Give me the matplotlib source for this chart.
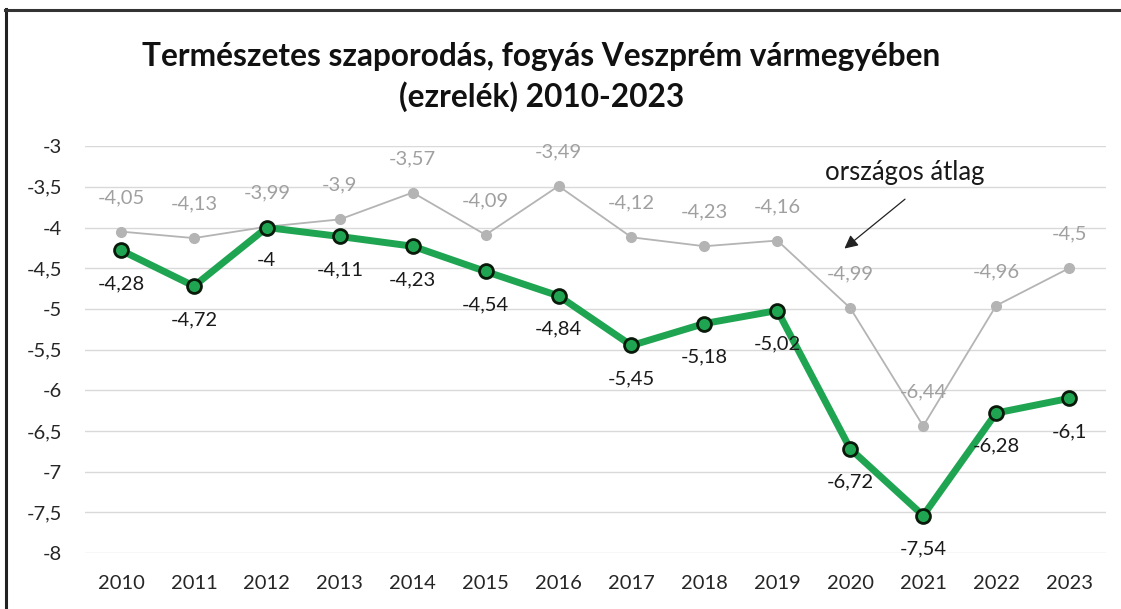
import matplotlib
matplotlib.use("Agg")
import matplotlib.pyplot as plt
from matplotlib.lines import Line2D

plt.rcParams['font.family'] = ['Lato', 'DejaVu Sans']

years = [2010, 2011, 2012, 2013, 2014, 2015, 2016, 2017, 2018, 2019, 2020, 2021, 2022, 2023]
veszprem = [-4.28, -4.72, -4.0, -4.11, -4.23, -4.54, -4.84, -5.45, -5.18, -5.02, -6.72, -7.54, -6.28, -6.1]
orszagos = [-4.05, -4.13, -3.99, -3.9, -3.57, -4.09, -3.49, -4.12, -4.23, -4.16, -4.99, -6.44, -4.96, -4.5]
yticks = [-3, -3.5, -4, -4.5, -5, -5.5, -6, -6.5, -7, -7.5, -8]
title = "Természetes szaporodás, fogyás Veszprém vármegyében\n(ezrelék) 2010-2023"


def fmt(v):
    s = ("%g" % v)
    return s.replace(".", ",")


fig = plt.figure(figsize=(11.21, 6.09), dpi=100)
ax = fig.add_axes([0.0754, 0.092, 0.9108, 0.668])

x = list(range(len(years)))
ax.plot(x, orszagos, color="#b4b4b4", lw=1.3, marker="o", ms=7,
        mfc="#b4b4b4", mec="#b4b4b4", zorder=3)
ax.plot(x, veszprem, color="#1fa551", lw=5.0, marker="o", ms=10,
        mfc="#1fa551", mec="#0a1a0a", mew=2.0, zorder=4)

for xi, v in zip(x, orszagos):
    ax.annotate(fmt(v), (xi, v), xytext=(0, 24.5), textcoords="offset points",
                ha="center", va="center", fontsize=14.5, color="#a0a0a0", zorder=5)
for xi, v in zip(x, veszprem):
    ax.annotate(fmt(v), (xi, v), xytext=(0, -24), textcoords="offset points",
                ha="center", va="center", fontsize=14.5, color="#1a1a1a", zorder=5)

ax.set_xlim(-0.5, len(years) - 0.5)
ax.set_ylim(-8, -3)
ax.set_yticks(yticks)
ax.set_yticklabels([fmt(t) for t in yticks])
ax.set_xticks(x)
ax.set_xticklabels([str(y) for y in years])
ax.tick_params(axis="both", length=0, labelsize=14.5, labelcolor="#262626")
ax.tick_params(axis="y", pad=16)
ax.tick_params(axis="x", pad=16)
ax.grid(axis="y", color="#d9d9d9", lw=1.0)
ax.set_axisbelow(True)
for s in ax.spines.values():
    s.set_visible(False)

fig.text(0.483, 0.873, title, ha="center", va="center", fontsize=22.8,
         fontweight="bold", color="#111111", linespacing=1.4)

ax.annotate("", xy=(9.89, -4.28), xytext=(10.78, -3.63),
            arrowprops=dict(arrowstyle="-|>", color="#222222", lw=0.9,
                            mutation_scale=20), zorder=6)
ax.text(10.75, -3.32, "országos átlag", ha="center", va="center",
        fontsize=18.5, color="#1a1a1a")

fig.add_artist(Line2D([0.0055, 0.0055], [0.0, 0.985], transform=fig.transFigure,
                      color="#222222", lw=2.2))
fig.add_artist(Line2D([0.0045, 1.0], [0.984, 0.984], transform=fig.transFigure,
                      color="#333333", lw=2.2))

fig.savefig("out.png", dpi=100)
